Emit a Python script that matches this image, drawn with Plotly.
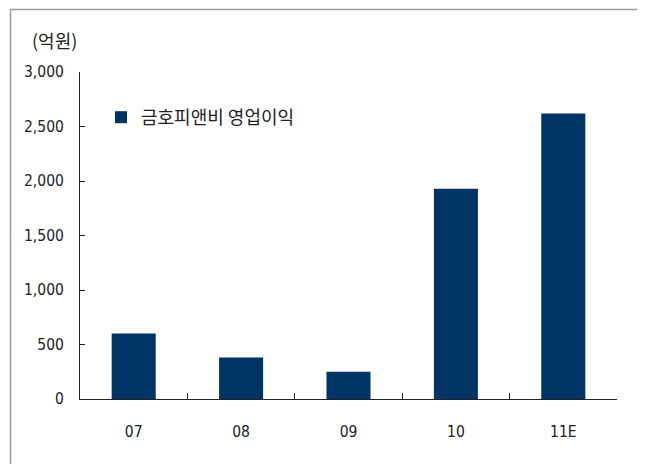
import plotly.graph_objects as go

categories = ["07", "08", "09", "10", "11E"]
operating_profit = [600, 380, 250, 1930, 2620]
series_name = "금호피앤비 영업이익"
unit_label = "(억원)"
y_tickvals = [0, 500, 1000, 1500, 2000, 2500, 3000]
y_ticktext = ["0", "500", "1,000", "1,500", "2,000", "2,500", "3,000"]

# page body has an 8px margin; work in reference pixel coords and shift
OFF = 8
W, H = 645 - OFF, 464 - OFF
L = 80 - OFF
T = 72 - OFF
R = W - (617 - OFF)
B = H - (399 - OFF)
pw, ph = W - L - R, H - T - B

def px_x(x):
    return (x - OFF - L) / pw

def px_y(y):
    return (H - B - (y - OFF)) / ph

NUMFONT = "DejaVu Sans Condensed, Liberation Sans, sans-serif"
KRFONT = "Noto Sans CJK KR, sans-serif"
TXT = "#222222"

fig = go.Figure()
fig.add_trace(go.Bar(
    x=categories, y=operating_profit, name=series_name,
    marker=dict(color="#003366", line=dict(width=0)),
    width=0.41, showlegend=True,
))

fig.update_layout(
    width=W, height=H,
    margin=dict(l=L, r=R, t=T, b=B),
    paper_bgcolor="white", plot_bgcolor="white",
    font=dict(family=NUMFONT, size=15.5, color=TXT),
    showlegend=True,
    legend=dict(
        x=px_x(101), y=px_y(117.5), xanchor="left", yanchor="middle",
        bgcolor="rgba(0,0,0,0)", font=dict(family=KRFONT, size=18, color=TXT),
        itemwidth=30,
    ),
    xaxis=dict(
        type="category", showline=True, linecolor="#222", linewidth=1,
        ticks="inside", ticklen=6, tickcolor="#222", tickson="boundaries",
        showgrid=False, zeroline=False, range=[-0.5, 4.5],
        ticklabelstandoff=18,
        tickfont=dict(family=NUMFONT, size=15.5, color=TXT),
    ),
    yaxis=dict(
        range=[0, 3000], tickvals=y_tickvals, ticktext=y_ticktext,
        showline=True, linecolor="#222", linewidth=1,
        ticks="inside", ticklen=5, tickcolor="#222",
        showgrid=False, zeroline=False,
        ticklabelstandoff=12,
        tickfont=dict(family=NUMFONT, size=15.5, color=TXT),
    ),
    shapes=[dict(
        type="rect", xref="paper", yref="paper",
        x0=px_x(10.5), x1=px_x(640.5), y0=px_y(9.5), y1=px_y(475),
        line=dict(color="#999999", width=1.5), fillcolor="rgba(0,0,0,0)", layer="below",
    )],
    annotations=[dict(
        text=unit_label, xref="paper", yref="paper",
        x=px_x(79), y=px_y(40), xanchor="right", yanchor="middle",
        showarrow=False, font=dict(family=KRFONT, size=18, color=TXT),
    )],
)

fig.write_html("out.html")
